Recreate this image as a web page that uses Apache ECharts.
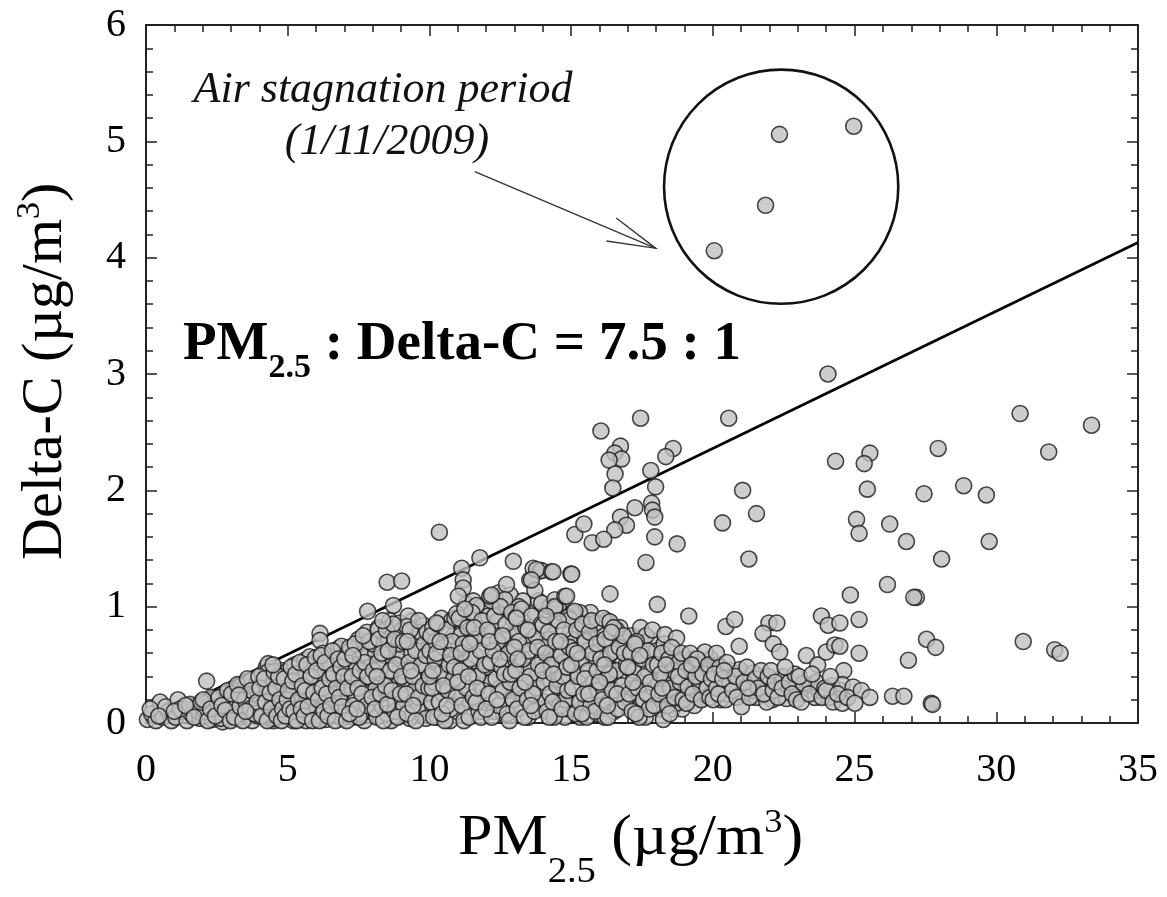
<!DOCTYPE html>
<html>
<head>
<meta charset="utf-8">
<script src="https://cdn.jsdelivr.net/npm/echarts@6/dist/echarts.min.js"></script>
<style>
html,body{margin:0;padding:0;background:#fff;}
#main{width:1167px;height:897px;}
</style>
</head>
<body>
<div id="main"></div>
<script>
// ---------------- DATA ----------------
const xTicks = [0, 5, 10, 15, 20, 25, 30, 35];
const yTicks = [0, 1, 2, 3, 4, 5, 6];

const denseLowPoints = [
  [0.05,0.03],[0.2,0.08],[0.35,0.02],[0.5,0.18],[0.6,0.05],[0.8,0.1],[0.9,0.02],[0.15,0.12],[0.7,0.14],[0.45,0.06],
  [1.13,0.2],[1.05,0.05],[1.3,0.1],[1.45,0.02],[1.6,0.08],[1.75,0.14],[1.9,0.04],[1.2,0.12],[1.55,0.16],[1.85,0.1],
  [2.14,0.36],[2.05,0.06],[2.2,0.15],[2.35,0.03],[2.5,0.2],[2.6,0.09],[2.75,0.25],[2.85,0.05],[2.95,0.17],[2.4,0.12],[2.7,0.01],[2.3,0.22],
  [2.1,0.1],[2.55,0.14],[2.9,0.22],[2.65,0.04],
  [3.05,0.1],[3.15,0.28],[3.25,0.04],[3.35,0.18],[3.5,0.32],[3.55,0.08],[3.65,0.22],[3.75,0.02],[3.8,0.14],[3.9,0.3],[3.95,0.06],[3.45,0.12],[3.2,0.2],[3.7,0.36],
  [3.1,0.16],[3.3,0.08],[3.61,0.27],[3.84,0.2],[3.9,0.34],[3.4,0.24],
  [4.05,0.2],[4.1,0.42],[4.2,0.05],[4.3,0.3],[4.35,0.14],[4.45,0.37],[4.5,0.02],[4.6,0.24],[4.7,0.1],[4.8,0.45],[4.85,0.32],[4.9,0.16],[4.25,0.48],[4.55,0.04],[4.95,0.27],[4.15,0.1],
  [4.31,0.51],[4.31,0.44],[4.96,0.44],[4.4,0.08],[4.65,0.35],[4.75,0.19],[4.0,0.13],
  [5.05,0.05],[5.1,0.35],[5.2,0.18],[5.25,0.5],[5.35,0.27],[5.4,0.08],[5.5,0.42],[5.55,0.15],[5.65,0.02],[5.7,0.33],[5.8,0.22],[5.85,0.47],[5.9,0.1],[5.95,0.38],[5.3,0.13],[5.6,0.54],[5.75,0.06],
  [5.78,0.57],[5.9,0.51],[5.67,0.41],[5.15,0.24],[5.45,0.3],[5.0,0.4],[5.2,0.02],
  [6.14,0.77],[6.14,0.71],[6.79,0.64],[6.05,0.28],[6.1,0.5],[6.2,0.12],[6.3,0.4],[6.35,0.03],[6.45,0.22],[6.5,0.57],[6.55,0.32],[6.6,0.08],[6.7,0.45],[6.75,0.17],[6.85,0.36],[6.9,0.04],[6.95,0.26],[6.25,0.6],[6.4,0.16],[6.65,0.52],
  [6.31,0.43],[6.9,0.66],[6.0,0.1],[6.58,0.25],[6.15,0.34],[6.8,0.12],[6.45,0.48],
  [7.82,0.96],[7.05,0.12],[7.1,0.42],[7.2,0.62],[7.25,0.25],[7.3,0.05],[7.4,0.35],[7.45,0.54],[7.55,0.16],[7.6,0.68],[7.65,0.45],[7.7,0.02],[7.75,0.28],[7.85,0.58],[7.9,0.1],[7.95,0.38],[7.15,0.2],[7.5,0.72],[7.35,0.5],[7.8,0.78],
  [7.0,0.3],[7.22,0.48],[7.58,0.08],[7.42,0.22],[7.68,0.6],[7.92,0.48],
  [8.51,1.21],[8.73,1.01],[8.05,0.22],[8.1,0.6],[8.15,0.05],[8.2,0.82],[8.3,0.38],[8.35,0.14],[8.4,0.7],[8.45,0.5],[8.55,0.28],[8.6,0.88],[8.65,0.02],[8.7,0.62],[8.75,0.42],[8.8,0.18],[8.85,0.76],[8.9,0.33],[8.95,0.55],[8.25,0.46],[8.5,0.08],[8.0,0.68],
  [8.19,0.8],[8.96,0.86],[8.12,0.3],[8.38,0.02],[8.58,0.72],[8.78,0.1],[8.42,0.58],
  [9.02,1.22],[9.05,0.8],[9.1,0.15],[9.15,0.45],[9.2,0.65],[9.3,0.04],[9.35,0.3],[9.4,0.88],[9.45,0.55],[9.5,0.2],[9.55,0.72],[9.6,0.4],[9.7,0.08],[9.75,0.62],[9.8,0.84],[9.85,0.25],[9.9,0.48],[9.95,0.12],[9.25,0.92],[9.65,0.35],[9.0,0.58],
  [9.2,0.83],[9.12,0.35],[9.38,0.6],[9.58,0.12],[9.68,0.78],[9.88,0.04],[9.48,0.28]
];

const denseMidPoints = [
  [10.35,1.64],[10.05,0.75],[10.1,0.3],[10.15,0.05],[10.2,0.55],[10.3,0.85],[10.35,0.18],[10.4,0.42],[10.5,0.65],[10.55,0.02],[10.6,0.8],[10.65,0.28],[10.7,0.5],[10.75,0.12],[10.8,0.7],[10.85,0.38],[10.9,0.9],[10.95,0.22],[10.25,0.6],[10.45,0.08],[10.0,0.4],[10.75,0.58],
  [10.25,0.86],[10.96,0.94],[10.12,0.45],[10.38,0.7],[10.62,0.15],[10.88,0.48],[10.5,0.32],
  [11.78,1.42],[11.14,1.33],[11.19,1.23],[11.19,1.16],[11.02,1.09],[11.66,1.01],[11.05,0.9],[11.1,0.45],[11.15,0.15],[11.2,0.68],[11.3,0.3],[11.35,0.82],[11.4,0.05],[11.45,0.55],[11.5,0.95],[11.55,0.22],[11.6,0.72],[11.7,0.4],[11.75,0.1],[11.8,0.62],[11.85,0.88],[11.9,0.28],[11.95,0.5],[11.25,0.98],[11.65,0.18],[11.0,0.35],
  [11.12,0.6],[11.38,0.4],[11.58,0.82],[11.82,0.05],[11.42,0.68],[11.68,0.3],
  [12.13,1.09],[12.72,1.19],[12.66,1.06],[12.96,1.39],[12.05,0.8],[12.1,0.25],[12.15,0.52],[12.2,0.05],[12.3,0.92],[12.35,0.38],[12.4,0.7],[12.45,0.15],[12.5,1.0],[12.55,0.48],[12.6,0.28],[12.7,0.85],[12.75,0.08],[12.8,0.6],[12.85,0.35],[12.9,0.95],[12.95,0.2],[12.25,0.62],[12.65,0.42],[12.0,0.12],
  [12.19,1.1],[12.12,0.7],[12.38,0.2],[12.58,0.75],[12.82,0.02],[12.48,0.55],[12.88,0.42],
  [13.07,0.91],[13.54,1.23],[13.66,1.33],[13.72,1.14],[13.9,1.31],[13.96,1.03],[13.96,1.31],[13.05,0.45],[13.1,0.12],[13.15,0.7],[13.2,0.3],[13.25,0.98],[13.3,0.55],[13.35,0.05],[13.4,0.82],[13.45,0.2],[13.5,0.62],[13.55,0.4],[13.6,0.92],[13.7,0.1],[13.75,0.75],[13.8,0.3],[13.85,0.5],[13.95,0.85],[13.65,0.25],[13.0,0.65],
  [13.07,0.9],[13.78,1.32],[13.6,1.23],[13.12,0.55],[13.38,0.35],[13.58,0.15],[13.82,0.65],[13.48,0.8],
  [14.01,0.84],[14.31,1.3],[14.36,1.3],[14.43,1.06],[14.43,0.98],[14.43,1.0],[14.78,1.09],[14.9,0.91],[14.84,1.09],[14.96,0.89],[14.99,1.28],[14.05,0.35],[14.1,0.6],[14.15,0.1],[14.2,0.78],[14.25,0.25],[14.3,0.5],[14.4,0.05],[14.45,0.7],[14.5,0.32],[14.55,0.88],[14.6,0.15],[14.65,0.58],[14.7,0.4],[14.75,0.8],[14.8,0.2],[14.85,0.48],[14.95,0.65],[14.35,0.18],[14.0,0.45],
  [14.12,0.92],[14.38,0.42],[14.62,0.7],[14.88,0.28],[14.22,0.05],[14.68,0.12],
  [15.02,1.28],[15.13,1.62],[15.45,1.71],[15.74,1.55],[15.13,0.96],[15.87,0.86],[15.05,0.3],[15.1,0.62],[15.15,0.08],[15.2,0.8],[15.25,0.4],[15.3,0.18],[15.35,0.55],[15.4,0.85],[15.45,0.25],[15.5,0.7],[15.55,0.05],[15.6,0.45],[15.65,0.78],[15.7,0.15],[15.75,0.6],[15.8,0.35],[15.85,0.1],[15.9,0.68],[15.95,0.28],[15.0,0.5],
  [15.22,0.6],[15.48,0.38],[15.72,0.88],[15.92,0.45],[15.38,0.08],[15.62,0.25],
  [16.05,2.51],[16.74,2.38],[16.54,2.32],[16.78,2.27],[16.34,2.26],[16.55,2.14],[16.47,2.02],[16.74,1.77],[16.95,1.7],[16.54,1.66],[16.15,1.58],[16.37,1.11],[16.13,0.9],[16.37,0.87],[16.05,0.55],[16.1,0.2],[16.2,0.72],[16.25,0.38],[16.3,0.05],[16.4,0.6],[16.45,0.28],[16.5,0.82],[16.6,0.45],[16.65,0.12],[16.7,0.65],[16.8,0.32],[16.85,0.75],[16.9,0.18],[16.95,0.5],[16.35,0.42],[16.0,0.35],
  [16.18,0.5],[16.42,0.78],[16.62,0.25],[16.88,0.6],[16.28,0.15],
  [17.45,2.62],[17.81,2.17],[17.98,2.03],[17.25,1.85],[17.84,1.89],[17.87,1.83],[17.95,1.77],[17.95,1.6],[17.64,1.38],[17.64,0.75],[17.87,0.8],[17.05,0.25],[17.1,0.6],[17.15,0.1],[17.2,0.45],[17.3,0.7],[17.35,0.3],[17.4,0.05],[17.5,0.55],[17.55,0.2],[17.6,0.4],[17.7,0.62],[17.75,0.12],[17.8,0.35],[17.9,0.5],[17.25,0.68],[17.0,0.48],
  [17.18,0.35],[17.42,0.58],[17.68,0.25],[17.92,0.15],[17.28,0.08]
];

const denseFillPoints = [
  [1.0,0.1],[1.4,0.15],[1.7,0.05],[1.95,0.18],
  [2.02,0.2],[2.18,0.02],[2.28,0.12],[2.45,0.06],[2.58,0.22],[2.68,0.15],[2.8,0.11],[2.98,0.02],[2.88,0.28],
  [3.02,0.25],[3.12,0.05],[3.22,0.33],[3.32,0.14],[3.42,0.02],[3.48,0.2],[3.58,0.38],[3.68,0.12],[3.72,0.28],[3.82,0.08],[3.92,0.18],[3.98,0.4],[3.28,0.24],[3.52,0.1],
  [4.02,0.3],[4.08,0.06],[4.18,0.38],[4.22,0.18],[4.28,0.02],[4.38,0.26],[4.42,0.12],[4.52,0.44],[4.58,0.3],[4.62,0.06],[4.68,0.4],[4.72,0.2],[4.78,0.02],[4.82,0.12],[4.88,0.38],[4.92,0.06],[4.98,0.2],[4.48,0.5],
  [5.02,0.28],[5.08,0.12],[5.12,0.48],[5.18,0.36],[5.22,0.1],[5.28,0.42],[5.32,0.02],[5.38,0.2],[5.42,0.52],[5.48,0.12],[5.52,0.32],[5.58,0.06],[5.62,0.28],[5.68,0.5],[5.72,0.14],[5.82,0.4],[5.88,0.02],[5.92,0.26],[5.98,0.56],
  [6.02,0.45],[6.08,0.2],[6.12,0.02],[6.18,0.58],[6.22,0.3],[6.28,0.1],[6.32,0.52],[6.38,0.25],[6.42,0.06],[6.48,0.38],[6.52,0.15],[6.58,0.62],[6.62,0.42],[6.68,0.02],[6.72,0.3],[6.78,0.55],[6.82,0.22],[6.88,0.48],[6.92,0.14],[6.98,0.4],
  [7.02,0.55],[7.08,0.02],[7.12,0.3],[7.18,0.65],[7.28,0.4],[7.32,0.15],[7.38,0.68],[7.48,0.3],[7.52,0.05],[7.56,0.45],[7.62,0.25],[7.72,0.52],[7.78,0.15],[7.82,0.4],[7.88,0.7],[7.98,0.22],[7.18,0.08],[7.45,0.12],[7.66,0.75],[7.3,0.58],
  [8.02,0.45],[8.08,0.12],[8.18,0.52],[8.22,0.72],[8.28,0.25],[8.32,0.6],[8.45,0.32],[8.48,0.8],[8.52,0.16],[8.62,0.45],[8.68,0.28],[8.72,0.85],[8.82,0.5],[8.88,0.05],[8.92,0.68],[8.98,0.25],[8.55,0.62],[8.35,0.88],[8.15,0.4],[8.78,0.72],
  [9.02,0.4],[9.08,0.7],[9.18,0.25],[9.22,0.08],[9.28,0.52],[9.32,0.8],[9.42,0.4],[9.52,0.02],[9.52,0.62],[9.62,0.88],[9.62,0.22],[9.72,0.5],[9.78,0.32],[9.82,0.68],[9.92,0.78],[9.98,0.3],[9.42,0.15],[9.22,0.7],[9.88,0.58],[9.35,0.45],
  [10.02,0.62],[10.08,0.18],[10.12,0.82],[10.18,0.35],[10.22,0.7],[10.28,0.05],[10.32,0.48],[10.42,0.9],[10.48,0.25],[10.52,0.55],[10.58,0.38],[10.68,0.68],[10.72,0.02],[10.78,0.88],[10.82,0.28],[10.92,0.62],[10.98,0.1],[10.62,0.5],[10.4,0.6],[10.85,0.75],
  [11.02,0.52],[11.08,0.75],[11.12,0.25],[11.18,0.88],[11.22,0.02],[11.28,0.52],[11.32,0.65],[11.42,0.2],[11.48,0.82],[11.52,0.4],[11.62,0.58],[11.68,0.92],[11.72,0.22],[11.78,0.78],[11.88,0.45],[11.92,0.1],[11.98,0.72],[11.3,1.02],[11.55,1.05],[11.85,1.0],
  [12.02,0.48],[12.08,0.92],[12.18,0.35],[12.22,0.8],[12.28,0.1],[12.32,0.58],[12.42,0.88],[12.48,0.3],[12.52,0.68],[12.62,0.08],[12.68,0.55],[12.72,1.0],[12.78,0.38],[12.82,0.75],[12.88,0.15],[12.92,0.62],[12.98,0.88],[12.2,1.05],[12.45,1.12],[12.85,1.1],
  [13.02,0.3],[13.08,0.78],[13.18,0.15],[13.22,0.5],[13.28,0.88],[13.32,0.22],[13.42,0.68],[13.48,0.05],[13.52,0.45],[13.62,0.72],[13.68,0.35],[13.72,0.95],[13.78,0.18],[13.82,0.42],[13.88,0.7],[13.92,0.12],[13.98,0.55],[13.3,1.05],[13.15,1.0],[13.85,1.05],
  [14.02,0.65],[14.08,0.18],[14.12,0.5],[14.18,0.72],[14.28,0.35],[14.32,0.85],[14.42,0.55],[14.48,0.2],[14.52,0.62],[14.58,0.38],[14.62,0.95],[14.72,0.52],[14.78,0.05],[14.82,0.68],[14.88,0.4],[14.92,0.12],[14.98,0.78],[14.25,1.0],[14.55,1.0],[14.7,0.25],
  [15.02,0.72],[15.08,0.2],[15.12,0.45],[15.18,0.9],[15.28,0.62],[15.32,0.05],[15.42,0.48],[15.48,0.72],[15.52,0.18],[15.58,0.62],[15.62,0.38],[15.68,0.95],[15.78,0.22],[15.82,0.55],[15.88,0.72],[15.92,0.08],[15.98,0.4],[15.3,0.95],[15.55,0.85],[15.05,0.95],
  [16.02,0.62],[16.08,0.4],[16.12,0.78],[16.18,0.05],[16.22,0.55],[16.32,0.7],[16.38,0.22],[16.48,0.45],[16.52,0.1],[16.58,0.62],[16.68,0.38],[16.72,0.82],[16.78,0.2],[16.82,0.52],[16.92,0.7],[16.98,0.28],[16.25,0.88],[16.6,0.8],[16.4,0.3],
  [17.02,0.62],[17.08,0.15],[17.12,0.75],[17.22,0.3],[17.32,0.48],[17.38,0.7],[17.48,0.15],[17.52,0.38],[17.58,0.68],[17.62,0.05],[17.72,0.45],[17.78,0.72],[17.82,0.22],[17.88,0.6],[17.98,0.35],[17.45,0.82],[17.15,0.55],
  [18.02,0.62],[18.08,0.35],[18.12,0.12],[18.18,0.48],[18.28,0.68],[18.38,0.25],[18.42,0.62],[18.52,0.45],[18.58,0.12],[18.68,0.55],[18.82,0.28],[18.88,0.45],[18.92,0.12],[18.98,0.55],
  [19.02,0.28],[19.12,0.52],[19.22,0.38],[19.32,0.55],[19.42,0.22],[19.52,0.45],[19.62,0.35],[19.72,0.25],[19.82,0.45],[19.92,0.55],[19.35,0.15],
  [20.08,0.35],[20.18,0.5],[20.28,0.2],[20.42,0.32],[20.52,0.25],[20.62,0.45],[20.72,0.38],[20.88,0.3],[21.05,0.25],[21.15,0.42],[21.35,0.32],[21.55,0.22],[21.65,0.4],[21.85,0.32],
  [22.1,0.2],[22.4,0.38],[22.65,0.28],[22.85,0.32],[23.2,0.25],[23.45,0.32],[23.6,0.22],[23.75,0.28],[24.1,0.22],[24.5,0.28],[24.2,0.32]
];

const tailPoints = [
  [18.6,2.36],[18.34,2.29],[18.74,1.54],[18.04,1.02],[18.31,0.76],[18.72,0.73],[18.25,0.03],[18.72,0.17],[18.05,0.5],[18.1,0.25],[18.2,0.6],[18.3,0.4],[18.4,0.15],[18.45,0.55],[18.5,0.3],[18.55,0.65],[18.6,0.45],[18.65,0.22],[18.8,0.52],[18.85,0.35],[18.9,0.6],[18.95,0.2],[18.15,0.42],
  [18.22,0.3],[18.48,0.08],[18.78,0.4],[18.35,0.5],
  [19.15,0.92],[19.07,0.17],[19.13,0.31],[19.54,0.34],[19.54,0.53],[19.72,0.61],[19.05,0.45],[19.2,0.6],[19.3,0.25],[19.4,0.4],[19.45,0.55],[19.6,0.2],[19.65,0.42],[19.8,0.3],[19.85,0.5],[19.9,0.22],[19.95,0.38],[19.25,0.5],
  [20.56,2.62],[20.34,1.72],[20.46,0.83],[20.77,0.89],[20.01,0.2],[20.13,0.3],[20.6,0.34],[20.13,0.6],[20.25,0.48],[20.95,0.46],[20.93,0.66],[20.05,0.42],[20.2,0.25],[20.35,0.38],[20.45,0.2],[20.5,0.52],[20.7,0.28],[20.8,0.4],[20.85,0.22],[20.4,0.45],
  [21.05,2.0],[21.54,1.8],[21.27,1.41],[21.98,0.86],[21.77,0.77],[21.42,0.43],[21.42,0.28],[21.9,0.18],[21.01,0.14],[21.1,0.35],[21.2,0.48],[21.3,0.22],[21.5,0.38],[21.6,0.3],[21.7,0.45],[21.8,0.25],[21.95,0.4],[21.25,0.3],
  [22.26,0.86],[22.13,0.68],[22.36,0.61],[22.48,0.4],[22.13,0.28],[22.6,0.21],[22.05,0.45],[22.2,0.35],[22.3,0.22],[22.45,0.3],[22.7,0.35],[22.8,0.25],[22.9,0.42],[22.95,0.2],[22.55,0.48],
  [23.83,0.92],[23.3,0.58],[23.7,0.5],[23.12,0.18],[23.65,0.35],[23.19,0.34],[23.05,0.4],[23.4,0.25],[23.5,0.42],[23.85,0.22],[23.95,0.3],
  [24.06,3.0],[24.33,2.25],[24.07,0.84],[24.0,0.61],[24.3,0.67],[24.0,0.28],[24.24,0.18],[24.85,1.1],[24.48,0.86],[24.48,0.66],[24.62,0.45],[24.57,0.33],[24.95,0.31],[24.57,0.17],[24.15,0.4],[24.4,0.25],[24.75,0.22],
  [25.54,2.32],[25.34,2.23],[25.45,2.01],[25.07,1.75],[25.16,1.63],[25.16,0.89],[25.16,0.6],[25.24,0.28],[25.54,0.22],[25.01,0.17],
  [26.24,1.71],[26.83,1.56],[26.16,1.19],[27.18,1.08],[27.09,1.08],[27.54,0.72],[27.86,0.65],[26.9,0.54],[26.34,0.23],[26.74,0.23],[27.71,0.17],[27.75,0.16],
  [27.95,2.36],[27.45,1.97],[28.85,2.04],[29.65,1.96],[29.75,1.56],[28.07,1.41],
  [30.84,2.66],[33.36,2.56],[31.85,2.33],[30.95,0.7],[32.06,0.63],[32.25,0.6]
];

// Air stagnation period (1/11/2009)
const stagnationPoints = [[22.35,5.06],[24.97,5.13],[21.86,4.45],[20.05,4.06]];

// fitted ratio line
const lineX = [0, 35];
const lineY = [0, 4.13];

// annotation ellipse (data units): centre and half-widths
const circleCenter = [22.41, 4.61];
const circleRadius = [4.2, 0.99];
// annotation arrow (data units): tail and tip
const arrowTail = [11.6, 4.74];
const arrowTip = [17.99, 4.08];

// ---------------- CHART ----------------
const FAMILY = "'Liberation Serif', 'Times New Roman', serif";
const pointStyle = {color: '#c0c0c0', borderColor: '#1a1a1a', borderWidth: 1.6};

const axisCommon = {
  axisLine: {show: true, onZero: false, lineStyle: {color: '#222', width: 2}},
  axisTick: {show: true, inside: true, length: 11, lineStyle: {color: '#222', width: 1.5}},
  minorTick: {show: true, splitNumber: 5, length: 7, lineStyle: {color: '#222', width: 1.5}},
  splitLine: {show: false}
};

const option = {
  animation: false,
  backgroundColor: '#fff',
  grid: {left: 146, right: 29, top: 25, bottom: 174, containLabel: false},
  xAxis: [
    Object.assign({}, axisCommon, {
      type: 'value', min: xTicks[0], max: xTicks[xTicks.length - 1], interval: 5,
      position: 'bottom',
      axisLabel: {show: true, fontFamily: FAMILY, fontSize: 40, color: '#000', margin: 27}
    }),
    Object.assign({}, axisCommon, {
      type: 'value', min: xTicks[0], max: xTicks[xTicks.length - 1], interval: 5,
      position: 'top', axisLabel: {show: false}
    })
  ],
  yAxis: [
    Object.assign({}, axisCommon, {
      type: 'value', min: yTicks[0], max: yTicks[yTicks.length - 1], interval: 1,
      position: 'left',
      axisLabel: {show: true, fontFamily: FAMILY, fontSize: 40, color: '#000', margin: 20}
    }),
    Object.assign({}, axisCommon, {
      type: 'value', min: yTicks[0], max: yTicks[yTicks.length - 1], interval: 1,
      position: 'right', axisLabel: {show: false}
    })
  ],
  series: [
    {
      name: 'ratio', type: 'line', xAxisIndex: 0, yAxisIndex: 0,
      data: lineX.map((x, i) => [x, lineY[i]]),
      symbol: 'none', lineStyle: {color: '#000', width: 2.6}, z: 2, silent: true
    },
    {
      name: 'obs', type: 'scatter', xAxisIndex: 0, yAxisIndex: 0,
      data: denseLowPoints.concat(denseFillPoints, denseMidPoints, tailPoints),
      symbol: 'circle', symbolSize: 16, itemStyle: pointStyle, z: 3, large: false
    },
    {
      name: 'stagnation', type: 'scatter', xAxisIndex: 0, yAxisIndex: 0,
      data: stagnationPoints,
      symbol: 'circle', symbolSize: 16, itemStyle: pointStyle, z: 3
    }
  ]
};

const chart = echarts.init(document.getElementById('main'), null, {renderer: 'canvas'});
chart.setOption(option);

// text composition with sub/superscripts (pieces placed on a shared baseline)
const mctx = document.createElement('canvas').getContext('2d');
function fontStr(p) {
  return (p.style || 'normal') + ' ' + (p.weight || 'normal') + ' ' + p.size + "px 'Liberation Serif'";
}
function composed(pieces, opts) {
  let x = 0;
  const children = [];
  pieces.forEach(p => {
    const font = fontStr(p);
    mctx.font = font;
    children.push({
      type: 'text', x: x, y: (p.dy || 0) - 0.3375 * p.size,
      style: {text: p.text, font: font, fill: '#000', align: 'left', verticalAlign: 'middle'}
    });
    x += mctx.measureText(p.text).width;
  });
  return Object.assign({type: 'group', children: children, z: 10}, opts);
}

const toPx = p => chart.convertToPixel({xAxisIndex: 0, yAxisIndex: 0}, p);
const c = toPx(circleCenter);
const edge = toPx([circleCenter[0] + circleRadius[0], circleCenter[1] + circleRadius[1]]);
const rx = edge[0] - c[0], ry = c[1] - edge[1];
const t0 = toPx(arrowTail), t1 = toPx(arrowTip);
const ang = Math.atan2(t0[1] - t1[1], t0[0] - t1[0]);
const headLen = 50, headAng = 14.5 * Math.PI / 180;
const h1 = [t1[0] + headLen * Math.cos(ang + headAng), t1[1] + headLen * Math.sin(ang + headAng)];
const h2 = [t1[0] + headLen * Math.cos(ang - headAng), t1[1] + headLen * Math.sin(ang - headAng)];

chart.setOption({
  graphic: [
    {type: 'circle', shape: {cx: c[0], cy: c[1], r: (rx + ry) / 2}, style: {fill: 'none', stroke: '#111', lineWidth: 2.6}, z: 10},
    {type: 'line', shape: {x1: t0[0], y1: t0[1], x2: t1[0], y2: t1[1]}, style: {stroke: '#333', lineWidth: 1.3}, z: 10},
    {type: 'polyline', shape: {points: [h1, t1, h2]}, style: {stroke: '#333', lineWidth: 1.3, fill: 'none'}, z: 10},
    {type: 'text', x: 383, y: 90, z: 10,
     style: {text: 'Air stagnation period', font: "italic 44px 'Liberation Serif'", fill: '#111', align: 'center', verticalAlign: 'middle'}},
    {type: 'text', x: 387, y: 142, z: 10,
     style: {text: '(1/11/2009)', font: "italic 44px 'Liberation Serif'", fill: '#111', align: 'center', verticalAlign: 'middle'}},
    // ratio label
    composed([
      {text: 'PM', size: 55, weight: 'bold'},
      {text: '2.5', size: 34, weight: 'bold', dy: 17},
      {text: ' : Delta-C = 7.5 : 1', size: 55, weight: 'bold'}
    ], {x: 183, y: 363}),
    // x axis title
    composed([
      {text: 'PM', size: 58},
      {text: '2.5', size: 36, dy: 27},
      {text: ' (\u00b5g/m', size: 58},
      {text: '3', size: 34, dy: -23},
      {text: ')', size: 58}
    ], {x: 458, y: 858, scaleX: 1.07}),
    // y axis title (rotated, reading upwards)
    composed([
      {text: 'Delta-C (\u00b5g/m', size: 58},
      {text: '3', size: 34, dy: -23},
      {text: ')', size: 58}
    ], {x: 65, y: 560, rotation: Math.PI / 2})
  ]
});
</script>
</body>
</html>
